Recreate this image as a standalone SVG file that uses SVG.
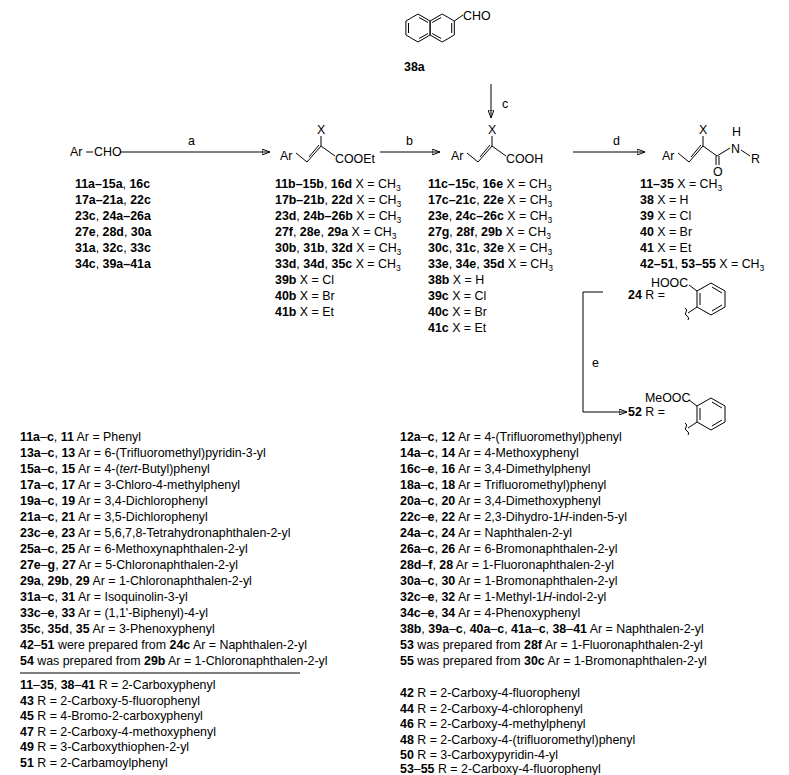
<svg xmlns="http://www.w3.org/2000/svg" width="789" height="775" viewBox="0 0 789 775">
<defs>
<marker id="ah" markerWidth="8" markerHeight="6" refX="8" refY="3" orient="auto" markerUnits="userSpaceOnUse"><path d="M0,0 L8,3 L0,6 z" fill="#000"/></marker>
</defs>
<style>
text{font-family:"Liberation Sans",Arial,sans-serif;font-size:12.4px;fill:#000}
.b{font-weight:bold}
.s{font-size:8.5px}
line,polyline,polygon,path{stroke:#000;stroke-width:1;fill:none}
.arr{marker-end:url(#ah)}
</style>
<rect width="789" height="775" fill="#fff"/>
<g id="n38a">
<polygon points="418,14 430.1,21 430.1,35 418,42 405.9,35 405.9,21"/>
<polygon points="442.2,14 454.3,21 454.3,35 442.2,42 430.1,35 430.1,21"/>
<line x1="408.5" y1="23" x2="408.5" y2="33"/><line x1="419" y1="17.5" x2="428" y2="22.5"/><line x1="419" y1="38.5" x2="428" y2="33.5"/>
<line x1="451.7" y1="23" x2="451.7" y2="33"/><line x1="441.2" y1="17.5" x2="432.2" y2="22.5"/><line x1="441.2" y1="38.5" x2="432.2" y2="33.5"/>
<line x1="454.3" y1="21" x2="463" y2="15"/>
<text x="463" y="20">CHO</text>
<text x="404" y="71" class="b">38a</text>
</g>
<g id="connectors">
<line x1="491" y1="84" x2="491" y2="118" class="arr"/><text x="502" y="108">c</text>
<line x1="120" y1="152" x2="270" y2="152" class="arr"/><text x="188" y="145">a</text>
<line x1="380" y1="152" x2="440" y2="152" class="arr"/><text x="406" y="145">b</text>
<line x1="573" y1="152" x2="645" y2="152" class="arr"/><text x="613" y="145">d</text>
<polyline points="603,292 583,292 583,412"/>
<line x1="583" y1="412" x2="627" y2="412" class="arr"/><text x="592" y="367">e</text>
</g>
<g id="aldehyde">
<text x="70" y="156">Ar</text><line x1="86" y1="152" x2="93" y2="152"/><text x="94" y="156">CHO</text>
<text class="b" x="75" y="188">11a–15a<tspan font-weight="normal">, </tspan>16c</text>
<text class="b" x="75" y="204">17a–21a<tspan font-weight="normal">, </tspan>22c</text>
<text class="b" x="75" y="220">23c<tspan font-weight="normal">, </tspan>24a–26a</text>
<text class="b" x="75" y="236">27e<tspan font-weight="normal">, </tspan>28d<tspan font-weight="normal">, </tspan>30a</text>
<text class="b" x="75" y="252">31a<tspan font-weight="normal">, </tspan>32c<tspan font-weight="normal">, </tspan>33c</text>
<text class="b" x="75" y="268">34c<tspan font-weight="normal">, </tspan>39a–41a</text>
</g>
<g id="ester">
<text x="280" y="160">Ar</text>
<polyline points="296,153 307,162 321,146 335,156"/><line x1="309" y1="157" x2="319" y2="145"/>
<line x1="321" y1="146" x2="321" y2="136"/><text x="317" y="134">X</text>
<text x="335" y="163">COOEt</text>
<text x="275" y="188"><tspan class="b">11b–15b</tspan>, <tspan class="b">16d</tspan> X = CH<tspan class="s" dy="3">3</tspan></text>
<text x="275" y="204"><tspan class="b">17b–21b</tspan>, <tspan class="b">22d</tspan> X = CH<tspan class="s" dy="3">3</tspan></text>
<text x="275" y="220"><tspan class="b">23d</tspan>, <tspan class="b">24b–26b</tspan> X = CH<tspan class="s" dy="3">3</tspan></text>
<text x="275" y="236"><tspan class="b">27f</tspan>, <tspan class="b">28e</tspan>, <tspan class="b">29a</tspan> X = CH<tspan class="s" dy="3">3</tspan></text>
<text x="275" y="252"><tspan class="b">30b</tspan>, <tspan class="b">31b</tspan>, <tspan class="b">32d</tspan> X = CH<tspan class="s" dy="3">3</tspan></text>
<text x="275" y="268"><tspan class="b">33d</tspan>, <tspan class="b">34d</tspan>, <tspan class="b">35c</tspan> X = CH<tspan class="s" dy="3">3</tspan></text>
<text x="275" y="284"><tspan class="b">39b</tspan> X = Cl</text>
<text x="275" y="300"><tspan class="b">40b</tspan> X = Br</text>
<text x="275" y="316"><tspan class="b">41b</tspan> X = Et</text>
</g>
<g id="acid">
<text x="451" y="160">Ar</text>
<polyline points="467,153 478,162 492,146 506,156"/><line x1="480" y1="157" x2="490" y2="145"/>
<line x1="492" y1="146" x2="492" y2="136"/><text x="488" y="134">X</text>
<text x="506" y="163">COOH</text>
<text x="428" y="188"><tspan class="b">11c–15c</tspan>, <tspan class="b">16e</tspan> X = CH<tspan class="s" dy="3">3</tspan></text>
<text x="428" y="204"><tspan class="b">17c–21c</tspan>, <tspan class="b">22e</tspan> X = CH<tspan class="s" dy="3">3</tspan></text>
<text x="428" y="220"><tspan class="b">23e</tspan>, <tspan class="b">24c–26c</tspan> X = CH<tspan class="s" dy="3">3</tspan></text>
<text x="428" y="236"><tspan class="b">27g</tspan>, <tspan class="b">28f</tspan>, <tspan class="b">29b</tspan> X = CH<tspan class="s" dy="3">3</tspan></text>
<text x="428" y="252"><tspan class="b">30c</tspan>, <tspan class="b">31c</tspan>, <tspan class="b">32e</tspan> X = CH<tspan class="s" dy="3">3</tspan></text>
<text x="428" y="268"><tspan class="b">33e</tspan>, <tspan class="b">34e</tspan>, <tspan class="b">35d</tspan> X = CH<tspan class="s" dy="3">3</tspan></text>
<text x="428" y="284"><tspan class="b">38b</tspan> X = H</text>
<text x="428" y="300"><tspan class="b">39c</tspan> X = Cl</text>
<text x="428" y="316"><tspan class="b">40c</tspan> X = Br</text>
<text x="428" y="332"><tspan class="b">41c</tspan> X = Et</text>
</g>
<g id="amide">
<text x="662" y="160">Ar</text>
<polyline points="678,153 689,162 703,146 717,156 730,148"/><line x1="691" y1="157" x2="701" y2="145"/>
<line x1="703" y1="146" x2="703" y2="136"/><text x="699" y="134">X</text>
<line x1="716" y1="156" x2="716" y2="165"/><line x1="719" y1="156" x2="719" y2="165"/>
<text x="713" y="176">O</text>
<text x="731" y="153">N</text><text x="732" y="136">H</text>
<line x1="741" y1="150" x2="750" y2="156"/>
<text x="751" y="163">R</text>
<text x="640" y="188"><tspan class="b">11–35</tspan> X = CH<tspan class="s" dy="3">3</tspan></text>
<text x="640" y="204"><tspan class="b">38</tspan> X = H</text>
<text x="640" y="220"><tspan class="b">39</tspan> X = Cl</text>
<text x="640" y="236"><tspan class="b">40</tspan> X = Br</text>
<text x="640" y="252"><tspan class="b">41</tspan> X = Et</text>
<text x="640" y="268"><tspan class="b">42–51</tspan>, <tspan class="b">53–55</tspan> X = CH<tspan class="s" dy="3">3</tspan></text>
</g>
<g id="r24">
<text x="628" y="299"><tspan class="b">24</tspan> R =</text>
<polygon points="711,283 725,291 725,307 711,315 697,307 697,291"/>
<line x1="700" y1="293" x2="700" y2="305"/><line x1="712" y1="287" x2="722" y2="293"/><line x1="712" y1="311" x2="722" y2="305"/>
<line x1="697" y1="291" x2="689" y2="285"/><text x="651" y="287">HOOC</text>
<line x1="697" y1="307" x2="688" y2="313"/><path d="M685,308 q3,2 1,4 q-2,2 1,4 q3,2 1,4"/>
</g>
<g id="r52">
<text x="628" y="416"><tspan class="b">52</tspan> R =</text>
<polygon points="711,398 725,406 725,422 711,430 697,422 697,406"/>
<line x1="700" y1="408" x2="700" y2="420"/><line x1="712" y1="402" x2="722" y2="408"/><line x1="712" y1="426" x2="722" y2="420"/>
<line x1="697" y1="406" x2="689" y2="400"/><text x="645" y="402">MeOOC</text>
<line x1="697" y1="422" x2="688" y2="428"/><path d="M685,423 q3,2 1,4 q-2,2 1,4 q3,2 1,4"/>
</g>
<g id="legend">
<text x="20" y="441"><tspan class="b">11a</tspan>–<tspan class="b">c</tspan>, <tspan class="b">11</tspan> Ar = Phenyl</text>
<text x="20" y="457"><tspan class="b">13a</tspan>–<tspan class="b">c</tspan>, <tspan class="b">13</tspan> Ar = 6-(Trifluoromethyl)pyridin-3-yl</text>
<text x="20" y="473"><tspan class="b">15a</tspan>–<tspan class="b">c</tspan>, <tspan class="b">15</tspan> Ar = 4-(<tspan font-style="italic">tert</tspan>-Butyl)phenyl</text>
<text x="20" y="489"><tspan class="b">17a</tspan>–<tspan class="b">c</tspan>, <tspan class="b">17</tspan> Ar = 3-Chloro-4-methylphenyl</text>
<text x="20" y="505"><tspan class="b">19a</tspan>–<tspan class="b">c</tspan>, <tspan class="b">19</tspan> Ar = 3,4-Dichlorophenyl</text>
<text x="20" y="521"><tspan class="b">21a</tspan>–<tspan class="b">c</tspan>, <tspan class="b">21</tspan> Ar = 3,5-Dichlorophenyl</text>
<text x="20" y="537"><tspan class="b">23c</tspan>–<tspan class="b">e</tspan>, <tspan class="b">23</tspan> Ar = 5,6,7,8-Tetrahydronaphthalen-2-yl</text>
<text x="20" y="553"><tspan class="b">25a</tspan>–<tspan class="b">c</tspan>, <tspan class="b">25</tspan> Ar = 6-Methoxynaphthalen-2-yl</text>
<text x="20" y="569"><tspan class="b">27e</tspan>–<tspan class="b">g</tspan>, <tspan class="b">27</tspan> Ar = 5-Chloronaphthalen-2-yl</text>
<text x="20" y="585"><tspan class="b">29a</tspan>, <tspan class="b">29b</tspan>, <tspan class="b">29</tspan> Ar = 1-Chloronaphthalen-2-yl</text>
<text x="20" y="601"><tspan class="b">31a</tspan>–<tspan class="b">c</tspan>, <tspan class="b">31</tspan> Ar = Isoquinolin-3-yl</text>
<text x="20" y="617"><tspan class="b">33c</tspan>–<tspan class="b">e</tspan>, <tspan class="b">33</tspan> Ar = (1,1'-Biphenyl)-4-yl</text>
<text x="20" y="633"><tspan class="b">35c</tspan>, <tspan class="b">35d</tspan>, <tspan class="b">35</tspan> Ar = 3-Phenoxyphenyl</text>
<text x="20" y="649"><tspan class="b">42</tspan>–<tspan class="b">51</tspan> were prepared from <tspan class="b">24c</tspan>  Ar = Naphthalen-2-yl</text>
<text x="20" y="665"><tspan class="b">54</tspan> was prepared from <tspan class="b">29b</tspan> Ar = 1-Chloronaphthalen-2-yl</text>
<text x="400" y="441"><tspan class="b">12a</tspan>–<tspan class="b">c</tspan>, <tspan class="b">12</tspan> Ar = 4-(Trifluoromethyl)phenyl</text>
<text x="400" y="457"><tspan class="b">14a</tspan>–<tspan class="b">c</tspan>, <tspan class="b">14</tspan> Ar = 4-Methoxyphenyl</text>
<text x="400" y="473"><tspan class="b">16c</tspan>–<tspan class="b">e</tspan>, <tspan class="b">16</tspan> Ar = 3,4-Dimethylphenyl</text>
<text x="400" y="489"><tspan class="b">18a</tspan>–<tspan class="b">c</tspan>, <tspan class="b">18</tspan> Ar = Trifluoromethyl)phenyl</text>
<text x="400" y="505"><tspan class="b">20a</tspan>–<tspan class="b">c</tspan>, <tspan class="b">20</tspan> Ar = 3,4-Dimethoxyphenyl</text>
<text x="400" y="521"><tspan class="b">22c</tspan>–<tspan class="b">e</tspan>, <tspan class="b">22</tspan> Ar = 2,3-Dihydro-1<tspan font-style="italic">H</tspan>-inden-5-yl</text>
<text x="400" y="537"><tspan class="b">24a</tspan>–<tspan class="b">c</tspan>, <tspan class="b">24</tspan> Ar = Naphthalen-2-yl</text>
<text x="400" y="553"><tspan class="b">26a</tspan>–<tspan class="b">c</tspan>, <tspan class="b">26</tspan> Ar = 6-Bromonaphthalen-2-yl</text>
<text x="400" y="569"><tspan class="b">28d</tspan>–<tspan class="b">f</tspan>, <tspan class="b">28</tspan> Ar = 1-Fluoronaphthalen-2-yl</text>
<text x="400" y="585"><tspan class="b">30a</tspan>–<tspan class="b">c</tspan>, <tspan class="b">30</tspan> Ar = 1-Bromonaphthalen-2-yl</text>
<text x="400" y="601"><tspan class="b">32c</tspan>–<tspan class="b">e</tspan>, <tspan class="b">32</tspan> Ar = 1-Methyl-1<tspan font-style="italic">H</tspan>-indol-2-yl</text>
<text x="400" y="617"><tspan class="b">34c</tspan>–<tspan class="b">e</tspan>, <tspan class="b">34</tspan> Ar = 4-Phenoxyphenyl</text>
<text x="400" y="633"><tspan class="b">38b</tspan>, <tspan class="b">39a</tspan>–<tspan class="b">c</tspan>, <tspan class="b">40a</tspan>–<tspan class="b">c</tspan>, <tspan class="b">41a</tspan>–<tspan class="b">c</tspan>, <tspan class="b">38</tspan>–<tspan class="b">41</tspan> Ar = Naphthalen-2-yl</text>
<text x="400" y="649"><tspan class="b">53</tspan> was prepared from <tspan class="b">28f</tspan> Ar = 1-Fluoronaphthalen-2-yl</text>
<text x="400" y="665"><tspan class="b">55</tspan> was prepared from <tspan class="b">30c</tspan> Ar = 1-Bromonaphthalen-2-yl</text>
<line x1="20" y1="673" x2="300" y2="673"/>
<text x="20" y="689"><tspan class="b">11</tspan>–<tspan class="b">35</tspan>, <tspan class="b">38</tspan>–<tspan class="b">41</tspan> R = 2-Carboxyphenyl</text>
<text x="20" y="705"><tspan class="b">43</tspan> R = 2-Carboxy-5-fluorophenyl</text>
<text x="20" y="720"><tspan class="b">45</tspan> R = 4-Bromo-2-carboxyphenyl</text>
<text x="20" y="736"><tspan class="b">47</tspan> R = 2-Carboxy-4-methoxyphenyl</text>
<text x="20" y="751"><tspan class="b">49</tspan> R = 3-Carboxythiophen-2-yl</text>
<text x="20" y="767"><tspan class="b">51</tspan> R = 2-Carbamoylphenyl</text>
<text x="400" y="697"><tspan class="b">42</tspan> R = 2-Carboxy-4-fluorophenyl</text>
<text x="400" y="713"><tspan class="b">44</tspan> R = 2-Carboxy-4-chlorophenyl</text>
<text x="400" y="728"><tspan class="b">46</tspan> R = 2-Carboxy-4-methylphenyl</text>
<text x="400" y="744"><tspan class="b">48</tspan> R = 2-Carboxy-4-(trifluoromethyl)phenyl</text>
<text x="400" y="759"><tspan class="b">50</tspan> R = 3-Carboxypyridin-4-yl</text>
<text x="400" y="773"><tspan class="b">53</tspan>–<tspan class="b">55</tspan> R = 2-Carboxy-4-fluorophenyl</text>
</g>
</svg>
